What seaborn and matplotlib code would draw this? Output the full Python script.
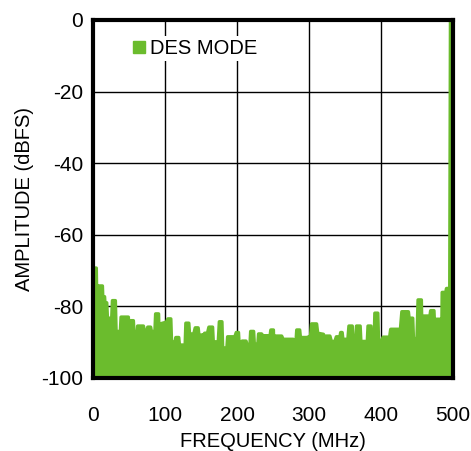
import matplotlib
matplotlib.use("Agg")
import matplotlib.pyplot as plt
from matplotlib.lines import Line2D
import seaborn as sns
import pandas as pd

freq_mhz = [0.3, 2.5, 3, 4.5, 5, 6.5, 7, 13, 13.5, 16, 16.5, 19, 20, 26, 27, 31, 32, 38, 39, 49,
            50, 52.5, 53, 56, 57, 61, 62, 70, 71, 75, 76, 80, 81, 86, 87, 91, 92, 94, 95, 102,
            104, 108, 109, 114, 115, 119, 120, 128, 129, 133, 134, 140, 142, 146, 147, 154, 155, 159,
            161, 166, 167, 174, 175.5, 179, 180, 186, 187, 197, 199, 202, 203, 206, 207, 212.5,
            214, 218, 219, 223, 224, 229, 230, 234, 236, 246, 247, 250.5, 251, 252, 253, 262,
            264, 278, 280, 282, 283, 287, 288, 297, 300, 302, 303.5, 310.5, 312, 320, 322, 324,
            329, 331, 336, 338, 343, 344, 346, 347, 354, 355.5, 360, 361, 365, 366, 371, 372,
            381, 382, 386, 387, 390.5, 391.5, 395.5, 396.5, 401, 403, 412, 413.5, 427, 429, 438,
            439, 444, 445, 450, 451.5, 456, 457, 459, 460, 468, 469, 473.5, 474.5, 476.5, 477,
            482, 483, 484.5, 485, 490, 491, 495.5, 496.5, 499, 499.5]
amplitude_dbfs = [-88, -88, -69.3, -69.3, -76, -76, -74.3, -74.3, -77.3, -77.3, -79, -79, -83.3, -83.3,
                  -78.4, -78.4, -87, -87, -83, -83, -87, -87, -84, -84, -88, -88, -85.5, -85.5,
                  -86.7, -86.7, -85.8, -85.8, -87, -87, -82.1, -82.1, -90.8, -90.8, -84.8, -84.4,
                  -83.5, -83.5, -89.9, -89.9, -88.7, -88.7, -90.8, -90.8, -84.7, -84.7, -87.7, -87.7,
                  -86, -86, -88, -88, -87.5, -87.5, -85.8, -85.8, -89.9, -89.9, -84.3, -84.3,
                  -91.6, -91.6, -88.5, -88.5, -87.3, -87.3, -91, -91, -89.7, -89.7, -90.8, -90.8,
                  -87, -87, -90.5, -90.5, -87.7, -87.7, -88.2, -88.2, -86.6, -86.6, -91.2, -91.2,
                  -88.3, -88.3, -89.2, -89.2, -89.8, -89.8, -86.6, -86.6, -88.7, -88.7, -88.5, -88.5,
                  -84.9, -84.9, -87.5, -87.8, -89, -88.3, -88.3, -89.8, -89.8, -88.5, -88.5, -87.3,
                  -87.3, -89.2, -89.2, -85.5, -85.5, -89.5, -89.5, -85.5, -85.5, -89.8, -89.8, -85.5,
                  -85.5, -89.8, -89.8, -81.9, -81.9, -89.5, -89.5, -88.6, -88.6, -86.4, -86.4, -81.5,
                  -81.5, -83.3, -83.3, -89, -89, -78.2, -78.2, -89, -89, -82.7, -82.7, -81.2, -81.2,
                  -86, -86, -83.6, -83.6, -86.4, -86.4, -76.1, -76.1, -75, -75, 0, 0, -100]

x_ticks = [0, 100, 200, 300, 400, 500]
y_ticks = [0, -20, -40, -60, -80, -100]
series_name = "DES MODE"

green = "#6BBC2D"

sns.set_theme(style="white")
plt.rcParams['font.family'] = ['Liberation Sans', 'DejaVu Sans']
plt.rcParams['axes.unicode_minus'] = False
plt.rcParams['text.color'] = 'black'

fig = plt.figure(figsize=(4.71, 4.51), dpi=100)
ax = fig.add_axes([0.1975, 0.1619, 0.7643, 0.7938])

df = pd.DataFrame({"freq": freq_mhz, "amp": amplitude_dbfs})
ax.fill_between(df["freq"], -100, df["amp"], color=green, linewidth=0, zorder=3)
sns.lineplot(data=df, x="freq", y="amp", estimator=None, sort=False, color=green,
             linewidth=2.5, solid_joinstyle="round", solid_capstyle="round", ax=ax, zorder=3)

ax.set_xlim(0, 500)
ax.set_ylim(-100, 0)
ax.set_xticks(x_ticks)
ax.set_yticks(y_ticks)
ax.grid(True, color="black", linewidth=1.0, zorder=1)
ax.set_axisbelow(True)
ax.tick_params(axis="both", labelsize=15, colors="black", length=0)
ax.tick_params(axis="x", pad=20)
ax.tick_params(axis="y", pad=7)
for s in ax.spines.values():
    s.set_color("black")
    s.set_linewidth(3)
    s.set_zorder(5)
ax.set_xlabel("FREQUENCY (MHz)", fontsize=14.5, color="black", labelpad=5)
ax.set_ylabel("AMPLITUDE (dBFS)", fontsize=14.5, color="black", labelpad=5)

handle = Line2D([], [], marker="s", linestyle="none", markersize=8, color=green)
leg = ax.legend([handle], [series_name], loc="upper left", bbox_to_anchor=(0.09, 0.955),
                frameon=True, fontsize=14.5, handletextpad=0.05, borderpad=0.15,
                handlelength=1.0, borderaxespad=0, labelcolor="black")
leg.get_frame().set_facecolor("white")
leg.get_frame().set_edgecolor("none")
leg.get_frame().set_alpha(1)
leg.set_zorder(6)

fig.savefig("out.png", dpi=100)
